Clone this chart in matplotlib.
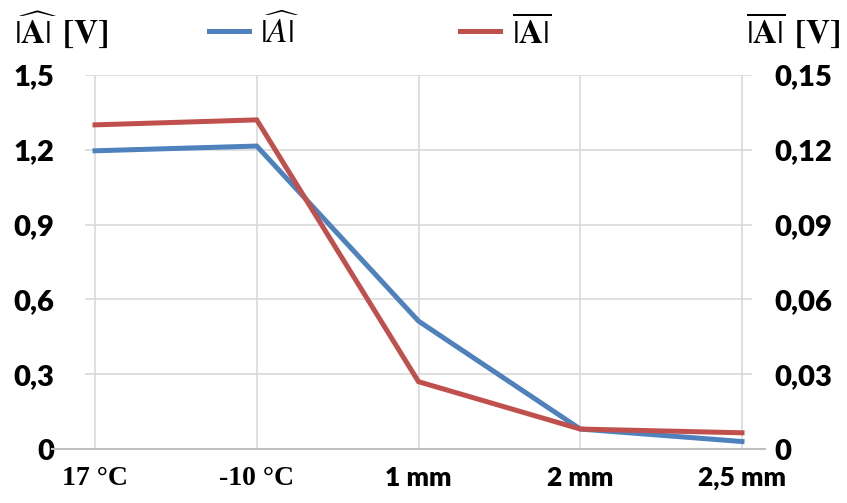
import matplotlib
matplotlib.use('Agg')
import matplotlib.pyplot as plt
from matplotlib.ticker import FuncFormatter

# data
categories = ['17 °C', '-10 °C', '1 mm', '2 mm', '2,5 mm']
a_hat = [1.196, 1.215, 0.513, 0.080, 0.030]      # left axis [V]
a_bar = [0.130, 0.132, 0.027, 0.008, 0.0065]     # right axis [V]
left_ticks = [0, 0.3, 0.6, 0.9, 1.2, 1.5]
right_ticks = [0, 0.03, 0.06, 0.09, 0.12, 0.15]

blue = '#4F81BD'
red = '#C0504D'
grid = '#D9D9D9'

plt.rcParams['mathtext.fontset'] = 'stix'

fig = plt.figure(figsize=(8.47, 5.03), dpi=100)
ax = fig.add_axes([85/847, 1-449/503, (752-85)/847, (449-75)/503])
ax2 = ax.twinx()

x = list(range(len(categories)))
l1, = ax.plot(x, a_hat, color=blue, lw=3.6, solid_joinstyle='miter')
l2, = ax2.plot(x, a_bar, color=red, lw=3.6, solid_joinstyle='miter')

pad = 10/161.75
ax.set_xlim(-pad, len(categories)-1+pad)
ax.set_ylim(0, 1.5)
ax2.set_ylim(0, 0.15)
ax.set_yticks(left_ticks)
ax2.set_yticks(right_ticks)

def comma(v, pos):
    if v == 0:
        return '0'
    return ('%g' % round(v, 3)).replace('.', ',')

ax.yaxis.set_major_formatter(FuncFormatter(comma))
ax2.yaxis.set_major_formatter(FuncFormatter(comma))

ax.grid(True, color=grid, lw=1.2)
ax.set_axisbelow(True)
for a in (ax, ax2):
    for s in a.spines.values():
        s.set_visible(False)
    a.tick_params(length=0)
ax.axhline(0, color='#BFBFBF', lw=1.5, xmin=-0.05, xmax=1.02, clip_on=False)

ax.set_xticks(x)
ax.set_xticklabels(categories)
for lab in ax.get_xticklabels():
    if '°' in lab.get_text():
        lab.set_family('Liberation Serif')
        lab.set_fontsize(20)
        lab.set_fontweight('bold')
    else:
        lab.set_family('Lato')
        lab.set_fontsize(19)
        lab.set_fontweight('heavy')
ax.tick_params(axis='x', pad=12)
ax.tick_params(axis='y', pad=22)
ax2.tick_params(axis='y', pad=16)
for lab in ax.get_yticklabels() + ax2.get_yticklabels():
    lab.set_family('Lato')
    lab.set_fontsize(21)
    lab.set_fontweight('heavy')

# axis titles
fig.text(14/847, 1-30/503, r'$\widehat{|\mathbf{A}|}$ $\mathbf{[V]}$', fontsize=24,
         ha='left', va='center')
fig.text(840/847, 1-30/503, r'$\overline{|\mathbf{A}|}$ $\mathbf{[V]}$', fontsize=24,
         ha='right', va='center')

# legend
fig.legend([l1, l2], [r'$\widehat{|A|}$', r'$\overline{|\mathbf{A}|}$'],
           loc='center', bbox_to_anchor=(380/847, 1-32/503), ncol=2,
           frameon=False, fontsize=24, handlelength=1.2, columnspacing=4.8,
           handletextpad=0.35)

plt.savefig('out.png', dpi=100)
